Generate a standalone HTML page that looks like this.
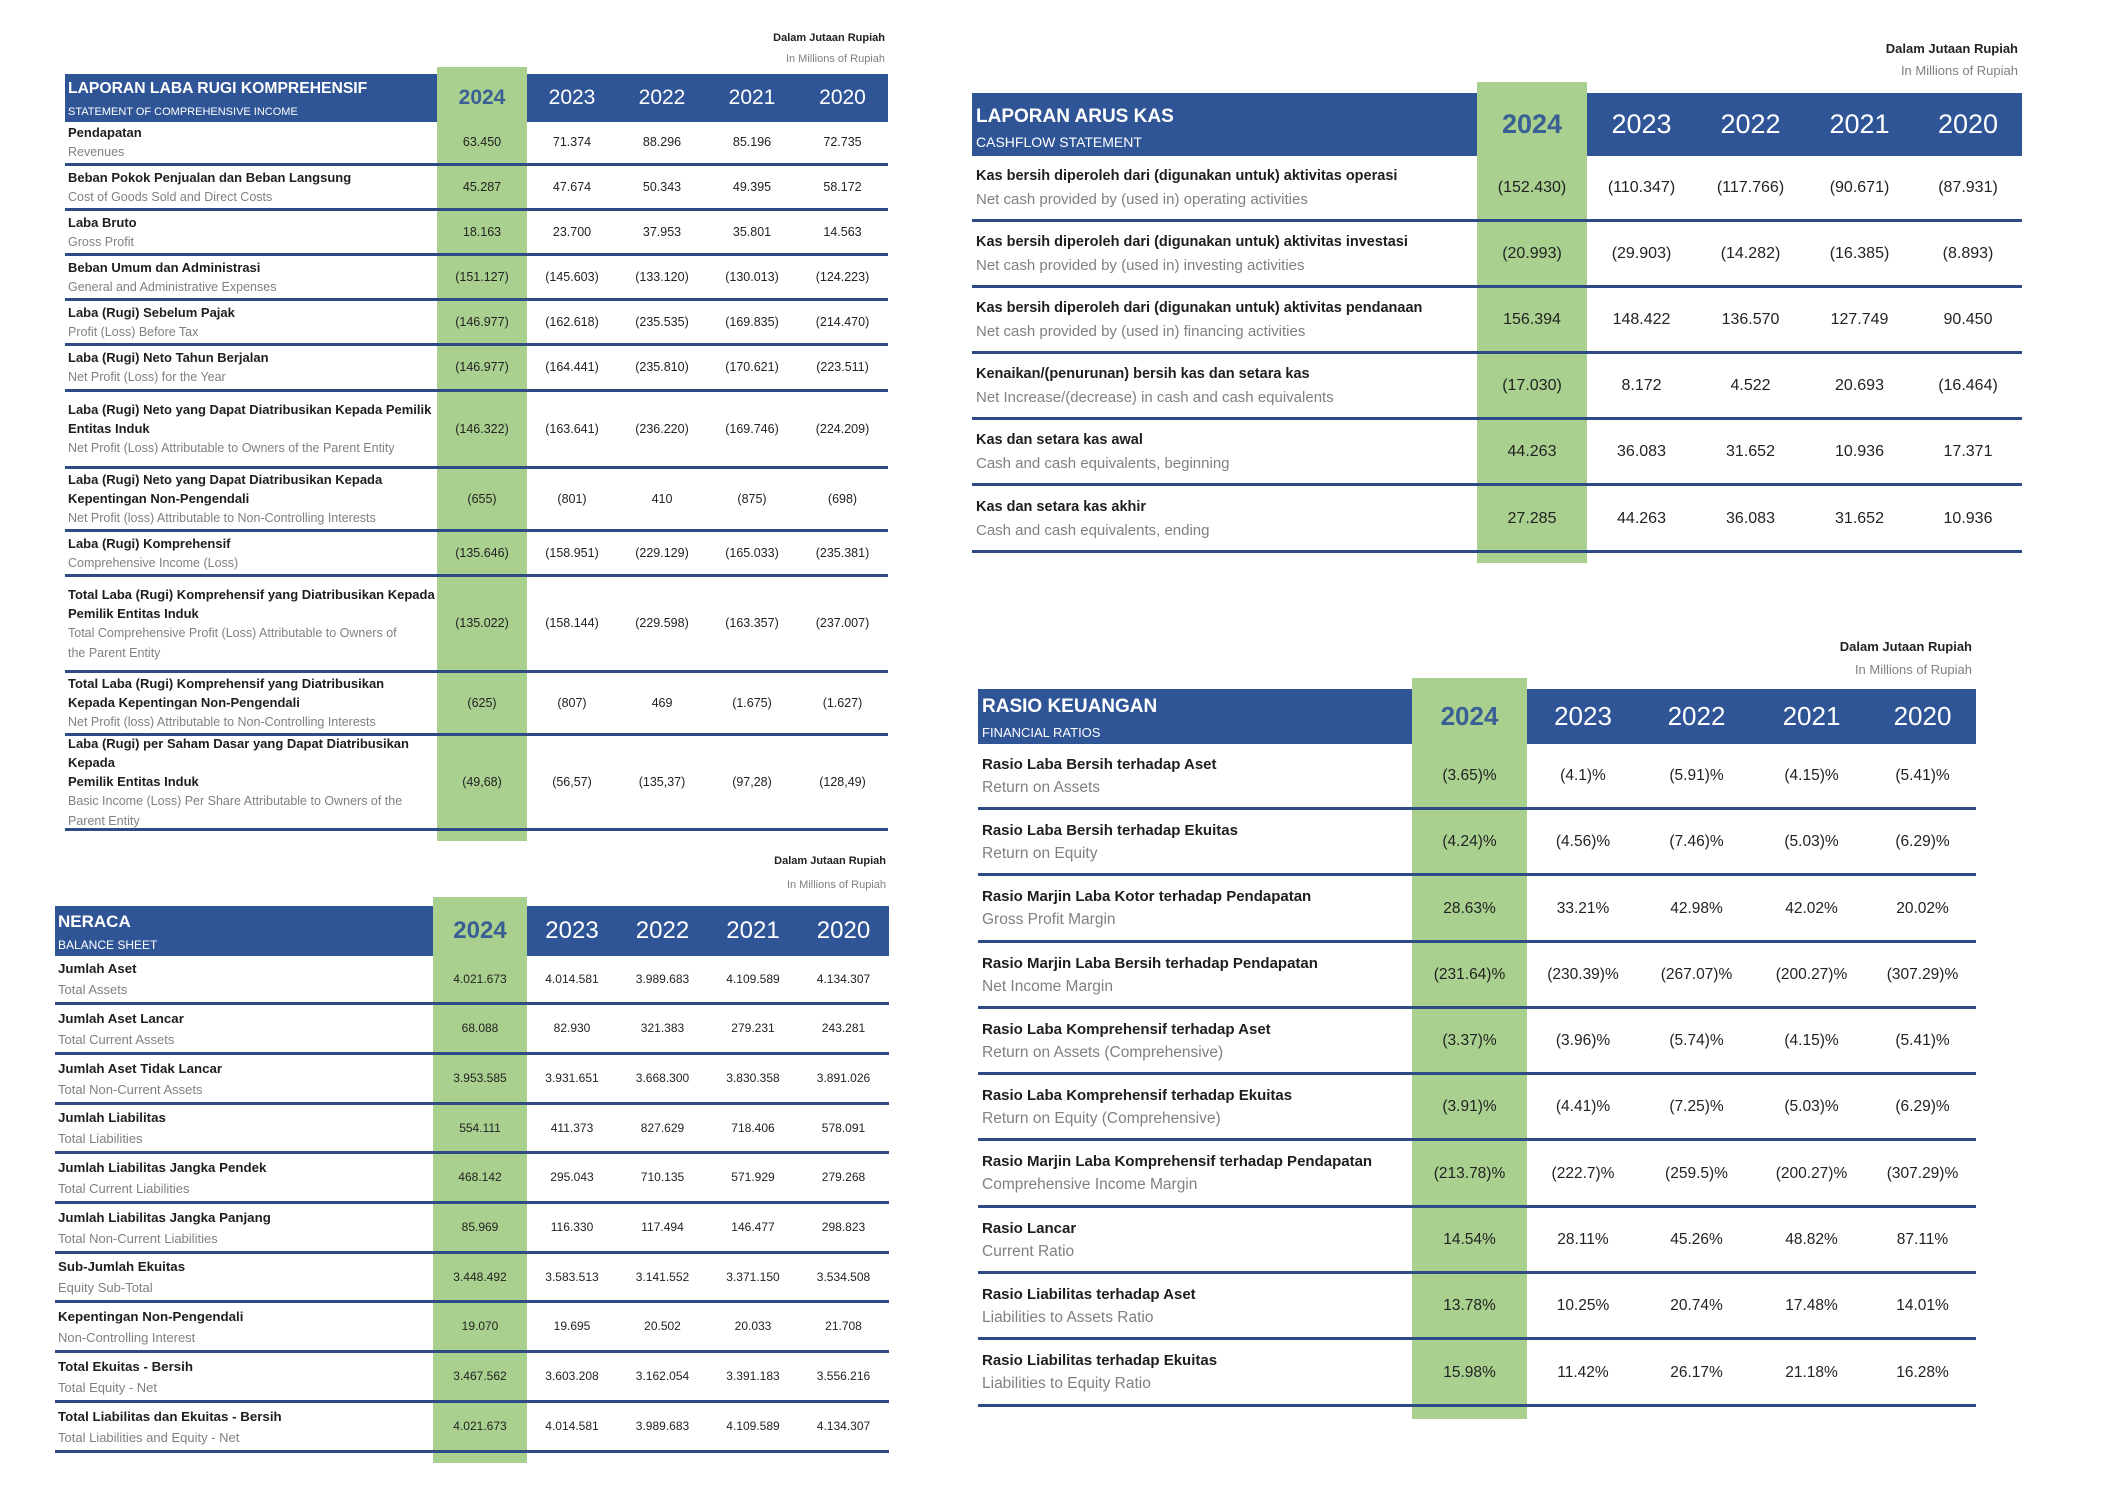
<!DOCTYPE html>
<html><head><meta charset="utf-8">
<style>
*{margin:0;padding:0;box-sizing:border-box}
body{width:2117px;height:1497px;background:#fff;position:relative;overflow:hidden;font-family:"Liberation Sans",sans-serif;color:#222}
.h{position:absolute;background:#2f5597}
.g{position:absolute;background:#a9d08e}
.tb{position:absolute}
.r{display:flex;align-items:center;border-bottom:3px solid #2f4b86;white-space:nowrap}
.r .l b{font-weight:bold;color:#1e1e1e}
.r .l span{color:#808080}
.r .v{text-align:center}
.yr{position:absolute;display:flex;align-items:center;color:#fff;white-space:nowrap}
.yr div{text-align:center}
.yr .y4{color:#3a5f94;font-weight:bold}
.ti{position:absolute;color:#fff;white-space:nowrap}
.un{position:absolute;text-align:right;white-space:nowrap;font-size:11px}
.un .a{color:#222;font-weight:bold}
.un .b{color:#808080}
.t1 .l b{font-size:13px}.t1 .l span{font-size:12.5px}.t1 .v{font-size:12.5px}
.t2 .l b{font-size:13.3px}.t2 .l span{font-size:13px}.t2 .v{font-size:12px}
.t3 .l b{font-size:14.5px}.t3 .l span{font-size:15px}.t3 .v{font-size:16px}
.t4 .l b{font-size:15px}.t4 .l span{font-size:15.5px}.t4 .v{font-size:15.5px}
</style></head><body>

<!-- ===== TABLE 1 ===== -->
<div class="un" style="right:1232px;top:28px;line-height:21px"><div class="a">Dalam Jutaan Rupiah</div><div class="b">In Millions of Rupiah</div></div>
<div class="h" style="left:65px;top:74px;width:823px;height:48px"></div>
<div class="g" style="left:437px;top:67px;width:90px;height:774px"></div>
<div class="ti" style="left:68px;top:79px;font-size:15.7px;font-weight:bold;line-height:20px">LAPORAN LABA RUGI KOMPREHENSIF</div>
<div class="ti" style="left:68px;top:104px;font-size:11px;line-height:16px">STATEMENT OF COMPREHENSIVE INCOME</div>
<div class="yr" style="left:437px;top:74px;height:48px;font-size:21px"><div class="y4" style="width:90px">2024</div><div style="width:90px">2023</div><div style="width:90px">2022</div><div style="width:90px">2021</div><div style="width:91px">2020</div></div>
<div class="tb t1" style="left:65px;top:122px;width:823px;line-height:19px">
<div class="r" style="height:44px"><div class="l" style="width:372px;padding-left:3px"><b>Pendapatan</b><br><span>Revenues</span></div><div class="v" style="width:90px">63.450</div><div class="v" style="width:90px">71.374</div><div class="v" style="width:90px">88.296</div><div class="v" style="width:90px">85.196</div><div class="v" style="width:91px">72.735</div></div>
<div class="r" style="height:45px"><div class="l" style="width:372px;padding-left:3px"><b>Beban Pokok Penjualan dan Beban Langsung</b><br><span>Cost of Goods Sold and Direct Costs</span></div><div class="v" style="width:90px">45.287</div><div class="v" style="width:90px">47.674</div><div class="v" style="width:90px">50.343</div><div class="v" style="width:90px">49.395</div><div class="v" style="width:91px">58.172</div></div>
<div class="r" style="height:45px"><div class="l" style="width:372px;padding-left:3px"><b>Laba Bruto</b><br><span>Gross Profit</span></div><div class="v" style="width:90px">18.163</div><div class="v" style="width:90px">23.700</div><div class="v" style="width:90px">37.953</div><div class="v" style="width:90px">35.801</div><div class="v" style="width:91px">14.563</div></div>
<div class="r" style="height:45px"><div class="l" style="width:372px;padding-left:3px"><b>Beban Umum dan Administrasi</b><br><span>General and Administrative Expenses</span></div><div class="v" style="width:90px">(151.127)</div><div class="v" style="width:90px">(145.603)</div><div class="v" style="width:90px">(133.120)</div><div class="v" style="width:90px">(130.013)</div><div class="v" style="width:91px">(124.223)</div></div>
<div class="r" style="height:45px"><div class="l" style="width:372px;padding-left:3px"><b>Laba (Rugi) Sebelum Pajak</b><br><span>Profit (Loss) Before Tax</span></div><div class="v" style="width:90px">(146.977)</div><div class="v" style="width:90px">(162.618)</div><div class="v" style="width:90px">(235.535)</div><div class="v" style="width:90px">(169.835)</div><div class="v" style="width:91px">(214.470)</div></div>
<div class="r" style="height:46px"><div class="l" style="width:372px;padding-left:3px"><b>Laba (Rugi) Neto Tahun Berjalan</b><br><span>Net Profit (Loss) for the Year</span></div><div class="v" style="width:90px">(146.977)</div><div class="v" style="width:90px">(164.441)</div><div class="v" style="width:90px">(235.810)</div><div class="v" style="width:90px">(170.621)</div><div class="v" style="width:91px">(223.511)</div></div>
<div class="r" style="height:77px"><div class="l" style="width:372px;padding-left:3px"><b>Laba (Rugi) Neto yang Dapat Diatribusikan Kepada Pemilik<br>Entitas Induk</b><br><span>Net Profit (Loss) Attributable to Owners of the Parent Entity</span></div><div class="v" style="width:90px">(146.322)</div><div class="v" style="width:90px">(163.641)</div><div class="v" style="width:90px">(236.220)</div><div class="v" style="width:90px">(169.746)</div><div class="v" style="width:91px">(224.209)</div></div>
<div class="r" style="height:63px"><div class="l" style="width:372px;padding-left:3px"><b>Laba (Rugi) Neto yang Dapat Diatribusikan Kepada<br>Kepentingan Non-Pengendali</b><br><span>Net Profit (loss) Attributable to Non-Controlling Interests</span></div><div class="v" style="width:90px">(655)</div><div class="v" style="width:90px">(801)</div><div class="v" style="width:90px">410</div><div class="v" style="width:90px">(875)</div><div class="v" style="width:91px">(698)</div></div>
<div class="r" style="height:45px"><div class="l" style="width:372px;padding-left:3px"><b>Laba (Rugi) Komprehensif</b><br><span>Comprehensive Income (Loss)</span></div><div class="v" style="width:90px">(135.646)</div><div class="v" style="width:90px">(158.951)</div><div class="v" style="width:90px">(229.129)</div><div class="v" style="width:90px">(165.033)</div><div class="v" style="width:91px">(235.381)</div></div>
<div class="r" style="height:96px"><div class="l" style="width:372px;padding-left:3px"><b>Total Laba (Rugi) Komprehensif yang Diatribusikan Kepada<br>Pemilik Entitas Induk</b><br><span>Total Comprehensive Profit (Loss) Attributable to Owners of<br>the Parent Entity</span></div><div class="v" style="width:90px">(135.022)</div><div class="v" style="width:90px">(158.144)</div><div class="v" style="width:90px">(229.598)</div><div class="v" style="width:90px">(163.357)</div><div class="v" style="width:91px">(237.007)</div></div>
<div class="r" style="height:63px"><div class="l" style="width:372px;padding-left:3px"><b>Total Laba (Rugi) Komprehensif  yang Diatribusikan<br>Kepada Kepentingan Non-Pengendali</b><br><span>Net Profit (loss) Attributable to Non-Controlling Interests</span></div><div class="v" style="width:90px">(625)</div><div class="v" style="width:90px">(807)</div><div class="v" style="width:90px">469</div><div class="v" style="width:90px">(1.675)</div><div class="v" style="width:91px">(1.627)</div></div>
<div class="r" style="height:95px"><div class="l" style="width:372px;padding-left:3px"><b>Laba (Rugi) per Saham Dasar yang Dapat Diatribusikan<br>Kepada<br>Pemilik Entitas Induk</b><br><span>Basic Income (Loss) Per Share Attributable to Owners of the<br>Parent Entity</span></div><div class="v" style="width:90px">(49,68)</div><div class="v" style="width:90px">(56,57)</div><div class="v" style="width:90px">(135,37)</div><div class="v" style="width:90px">(97,28)</div><div class="v" style="width:91px">(128,49)</div></div>
</div>

<!-- ===== BALANCE SHEET ===== -->
<div class="un" style="right:1231px;top:849px;line-height:24px"><div class="a">Dalam Jutaan Rupiah</div><div class="b">In Millions of Rupiah</div></div>
<div class="h" style="left:55px;top:906px;width:834px;height:50px"></div>
<div class="g" style="left:433px;top:897px;width:94px;height:566px"></div>
<div class="ti" style="left:58px;top:911px;font-size:17px;font-weight:bold;line-height:22px">NERACA</div>
<div class="ti" style="left:58px;top:937px;font-size:12px;line-height:17px">BALANCE SHEET</div>
<div class="yr" style="left:433px;top:906px;height:50px;font-size:24px"><div class="y4" style="width:94px">2024</div><div style="width:90px">2023</div><div style="width:91px">2022</div><div style="width:90px">2021</div><div style="width:91px">2020</div></div>
<div class="tb t2" style="left:55px;top:956px;width:834px;line-height:21px">
<div class="r" style="height:49px"><div class="l" style="width:378px;padding-left:3px"><b>Jumlah Aset</b><br><span>Total Assets</span></div><div class="v" style="width:94px">4.021.673</div><div class="v" style="width:90px">4.014.581</div><div class="v" style="width:91px">3.989.683</div><div class="v" style="width:90px">4.109.589</div><div class="v" style="width:91px">4.134.307</div></div>
<div class="r" style="height:50px"><div class="l" style="width:378px;padding-left:3px"><b>Jumlah Aset Lancar</b><br><span>Total Current Assets</span></div><div class="v" style="width:94px">68.088</div><div class="v" style="width:90px">82.930</div><div class="v" style="width:91px">321.383</div><div class="v" style="width:90px">279.231</div><div class="v" style="width:91px">243.281</div></div>
<div class="r" style="height:50px"><div class="l" style="width:378px;padding-left:3px"><b>Jumlah Aset Tidak Lancar</b><br><span>Total Non-Current Assets</span></div><div class="v" style="width:94px">3.953.585</div><div class="v" style="width:90px">3.931.651</div><div class="v" style="width:91px">3.668.300</div><div class="v" style="width:90px">3.830.358</div><div class="v" style="width:91px">3.891.026</div></div>
<div class="r" style="height:49px"><div class="l" style="width:378px;padding-left:3px"><b>Jumlah Liabilitas</b><br><span>Total Liabilities</span></div><div class="v" style="width:94px">554.111</div><div class="v" style="width:90px">411.373</div><div class="v" style="width:91px">827.629</div><div class="v" style="width:90px">718.406</div><div class="v" style="width:91px">578.091</div></div>
<div class="r" style="height:50px"><div class="l" style="width:378px;padding-left:3px"><b>Jumlah Liabilitas Jangka Pendek</b><br><span>Total Current Liabilities</span></div><div class="v" style="width:94px">468.142</div><div class="v" style="width:90px">295.043</div><div class="v" style="width:91px">710.135</div><div class="v" style="width:90px">571.929</div><div class="v" style="width:91px">279.268</div></div>
<div class="r" style="height:50px"><div class="l" style="width:378px;padding-left:3px"><b>Jumlah Liabilitas Jangka Panjang</b><br><span>Total Non-Current Liabilities</span></div><div class="v" style="width:94px">85.969</div><div class="v" style="width:90px">116.330</div><div class="v" style="width:91px">117.494</div><div class="v" style="width:90px">146.477</div><div class="v" style="width:91px">298.823</div></div>
<div class="r" style="height:49px"><div class="l" style="width:378px;padding-left:3px"><b>Sub-Jumlah Ekuitas</b><br><span>Equity Sub-Total</span></div><div class="v" style="width:94px">3.448.492</div><div class="v" style="width:90px">3.583.513</div><div class="v" style="width:91px">3.141.552</div><div class="v" style="width:90px">3.371.150</div><div class="v" style="width:91px">3.534.508</div></div>
<div class="r" style="height:50px"><div class="l" style="width:378px;padding-left:3px"><b>Kepentingan Non-Pengendali</b><br><span>Non-Controlling Interest</span></div><div class="v" style="width:94px">19.070</div><div class="v" style="width:90px">19.695</div><div class="v" style="width:91px">20.502</div><div class="v" style="width:90px">20.033</div><div class="v" style="width:91px">21.708</div></div>
<div class="r" style="height:50px"><div class="l" style="width:378px;padding-left:3px"><b>Total Ekuitas - Bersih</b><br><span>Total Equity - Net</span></div><div class="v" style="width:94px">3.467.562</div><div class="v" style="width:90px">3.603.208</div><div class="v" style="width:91px">3.162.054</div><div class="v" style="width:90px">3.391.183</div><div class="v" style="width:91px">3.556.216</div></div>
<div class="r" style="height:50px"><div class="l" style="width:378px;padding-left:3px"><b>Total Liabilitas dan Ekuitas - Bersih</b><br><span>Total Liabilities and Equity - Net</span></div><div class="v" style="width:94px">4.021.673</div><div class="v" style="width:90px">4.014.581</div><div class="v" style="width:91px">3.989.683</div><div class="v" style="width:90px">4.109.589</div><div class="v" style="width:91px">4.134.307</div></div>
</div>

<!-- ===== CASHFLOW ===== -->
<div class="un" style="right:99px;top:38px;line-height:22px;font-size:13px"><div class="a">Dalam Jutaan Rupiah</div><div class="b">In Millions of Rupiah</div></div>
<div class="h" style="left:972px;top:93px;width:1050px;height:63px"></div>
<div class="g" style="left:1477px;top:82px;width:110px;height:481px"></div>
<div class="ti" style="left:976px;top:105px;font-size:19px;font-weight:bold;line-height:24px">LAPORAN ARUS KAS</div>
<div class="ti" style="left:976px;top:133px;font-size:14px;line-height:18px">CASHFLOW STATEMENT</div>
<div class="yr" style="left:1477px;top:93px;height:63px;font-size:27px"><div class="y4" style="width:110px">2024</div><div style="width:109px">2023</div><div style="width:109px">2022</div><div style="width:109px">2021</div><div style="width:108px">2020</div></div>
<div class="tb t3" style="left:972px;top:156px;width:1050px;line-height:23px">
<div class="r" style="height:66px"><div class="l" style="width:505px;padding-left:4px"><b>Kas bersih diperoleh dari (digunakan untuk) aktivitas operasi</b><br><span>Net cash provided by (used in) operating activities</span></div><div class="v" style="width:110px">(152.430)</div><div class="v" style="width:109px">(110.347)</div><div class="v" style="width:109px">(117.766)</div><div class="v" style="width:109px">(90.671)</div><div class="v" style="width:108px">(87.931)</div></div>
<div class="r" style="height:66px"><div class="l" style="width:505px;padding-left:4px"><b>Kas bersih diperoleh dari (digunakan untuk) aktivitas investasi</b><br><span>Net cash provided by (used in) investing activities</span></div><div class="v" style="width:110px">(20.993)</div><div class="v" style="width:109px">(29.903)</div><div class="v" style="width:109px">(14.282)</div><div class="v" style="width:109px">(16.385)</div><div class="v" style="width:108px">(8.893)</div></div>
<div class="r" style="height:66px"><div class="l" style="width:505px;padding-left:4px"><b>Kas bersih diperoleh dari (digunakan untuk) aktivitas pendanaan</b><br><span>Net cash provided by (used in) financing activities</span></div><div class="v" style="width:110px">156.394</div><div class="v" style="width:109px">148.422</div><div class="v" style="width:109px">136.570</div><div class="v" style="width:109px">127.749</div><div class="v" style="width:108px">90.450</div></div>
<div class="r" style="height:66px"><div class="l" style="width:505px;padding-left:4px"><b>Kenaikan/(penurunan) bersih kas dan setara kas</b><br><span>Net Increase/(decrease) in cash and cash equivalents</span></div><div class="v" style="width:110px">(17.030)</div><div class="v" style="width:109px">8.172</div><div class="v" style="width:109px">4.522</div><div class="v" style="width:109px">20.693</div><div class="v" style="width:108px">(16.464)</div></div>
<div class="r" style="height:66px"><div class="l" style="width:505px;padding-left:4px"><b>Kas dan setara kas awal</b><br><span>Cash and cash equivalents, beginning</span></div><div class="v" style="width:110px">44.263</div><div class="v" style="width:109px">36.083</div><div class="v" style="width:109px">31.652</div><div class="v" style="width:109px">10.936</div><div class="v" style="width:108px">17.371</div></div>
<div class="r" style="height:67px"><div class="l" style="width:505px;padding-left:4px"><b>Kas dan setara kas akhir</b><br><span>Cash and cash equivalents, ending</span></div><div class="v" style="width:110px">27.285</div><div class="v" style="width:109px">44.263</div><div class="v" style="width:109px">36.083</div><div class="v" style="width:109px">31.652</div><div class="v" style="width:108px">10.936</div></div>
</div>

<!-- ===== RATIOS ===== -->
<div class="un" style="right:145px;top:635px;line-height:23px;font-size:13px"><div class="a">Dalam Jutaan Rupiah</div><div class="b">In Millions of Rupiah</div></div>
<div class="h" style="left:978px;top:689px;width:998px;height:55px"></div>
<div class="g" style="left:1412px;top:678px;width:115px;height:741px"></div>
<div class="ti" style="left:982px;top:695px;font-size:19px;font-weight:bold;line-height:24px">RASIO KEUANGAN</div>
<div class="ti" style="left:982px;top:724px;font-size:13px;line-height:18px">FINANCIAL RATIOS</div>
<div class="yr" style="left:1412px;top:689px;height:55px;font-size:26px"><div class="y4" style="width:115px">2024</div><div style="width:112px">2023</div><div style="width:115px">2022</div><div style="width:115px">2021</div><div style="width:107px">2020</div></div>
<div class="tb t4" style="left:978px;top:744px;width:998px;line-height:23px">
<div class="r" style="height:66px"><div class="l" style="width:434px;padding-left:4px"><b>Rasio Laba Bersih terhadap Aset</b><br><span>Return on Assets</span></div><div class="v" style="width:115px">(3.65)%</div><div class="v" style="width:112px">(4.1)%</div><div class="v" style="width:115px">(5.91)%</div><div class="v" style="width:115px">(4.15)%</div><div class="v" style="width:107px">(5.41)%</div></div>
<div class="r" style="height:66px"><div class="l" style="width:434px;padding-left:4px"><b>Rasio Laba Bersih terhadap Ekuitas</b><br><span>Return on Equity</span></div><div class="v" style="width:115px">(4.24)%</div><div class="v" style="width:112px">(4.56)%</div><div class="v" style="width:115px">(7.46)%</div><div class="v" style="width:115px">(5.03)%</div><div class="v" style="width:107px">(6.29)%</div></div>
<div class="r" style="height:67px"><div class="l" style="width:434px;padding-left:4px"><b>Rasio Marjin Laba Kotor terhadap Pendapatan</b><br><span>Gross Profit  Margin</span></div><div class="v" style="width:115px">28.63%</div><div class="v" style="width:112px">33.21%</div><div class="v" style="width:115px">42.98%</div><div class="v" style="width:115px">42.02%</div><div class="v" style="width:107px">20.02%</div></div>
<div class="r" style="height:66px"><div class="l" style="width:434px;padding-left:4px"><b>Rasio Marjin Laba Bersih terhadap Pendapatan</b><br><span>Net Income Margin</span></div><div class="v" style="width:115px">(231.64)%</div><div class="v" style="width:112px">(230.39)%</div><div class="v" style="width:115px">(267.07)%</div><div class="v" style="width:115px">(200.27)%</div><div class="v" style="width:107px">(307.29)%</div></div>
<div class="r" style="height:66px"><div class="l" style="width:434px;padding-left:4px"><b>Rasio Laba Komprehensif terhadap Aset</b><br><span>Return on Assets (Comprehensive)</span></div><div class="v" style="width:115px">(3.37)%</div><div class="v" style="width:112px">(3.96)%</div><div class="v" style="width:115px">(5.74)%</div><div class="v" style="width:115px">(4.15)%</div><div class="v" style="width:107px">(5.41)%</div></div>
<div class="r" style="height:66px"><div class="l" style="width:434px;padding-left:4px"><b>Rasio Laba Komprehensif terhadap Ekuitas</b><br><span>Return on Equity (Comprehensive)</span></div><div class="v" style="width:115px">(3.91)%</div><div class="v" style="width:112px">(4.41)%</div><div class="v" style="width:115px">(7.25)%</div><div class="v" style="width:115px">(5.03)%</div><div class="v" style="width:107px">(6.29)%</div></div>
<div class="r" style="height:67px"><div class="l" style="width:434px;padding-left:4px"><b>Rasio Marjin Laba Komprehensif terhadap Pendapatan</b><br><span>Comprehensive Income Margin</span></div><div class="v" style="width:115px">(213.78)%</div><div class="v" style="width:112px">(222.7)%</div><div class="v" style="width:115px">(259.5)%</div><div class="v" style="width:115px">(200.27)%</div><div class="v" style="width:107px">(307.29)%</div></div>
<div class="r" style="height:66px"><div class="l" style="width:434px;padding-left:4px"><b>Rasio Lancar</b><br><span>Current Ratio</span></div><div class="v" style="width:115px">14.54%</div><div class="v" style="width:112px">28.11%</div><div class="v" style="width:115px">45.26%</div><div class="v" style="width:115px">48.82%</div><div class="v" style="width:107px">87.11%</div></div>
<div class="r" style="height:66px"><div class="l" style="width:434px;padding-left:4px"><b>Rasio Liabilitas terhadap Aset</b><br><span>Liabilities to Assets Ratio</span></div><div class="v" style="width:115px">13.78%</div><div class="v" style="width:112px">10.25%</div><div class="v" style="width:115px">20.74%</div><div class="v" style="width:115px">17.48%</div><div class="v" style="width:107px">14.01%</div></div>
<div class="r" style="height:67px"><div class="l" style="width:434px;padding-left:4px"><b>Rasio Liabilitas terhadap Ekuitas</b><br><span>Liabilities to Equity Ratio</span></div><div class="v" style="width:115px">15.98%</div><div class="v" style="width:112px">11.42%</div><div class="v" style="width:115px">26.17%</div><div class="v" style="width:115px">21.18%</div><div class="v" style="width:107px">16.28%</div></div>
</div>

</body></html>
